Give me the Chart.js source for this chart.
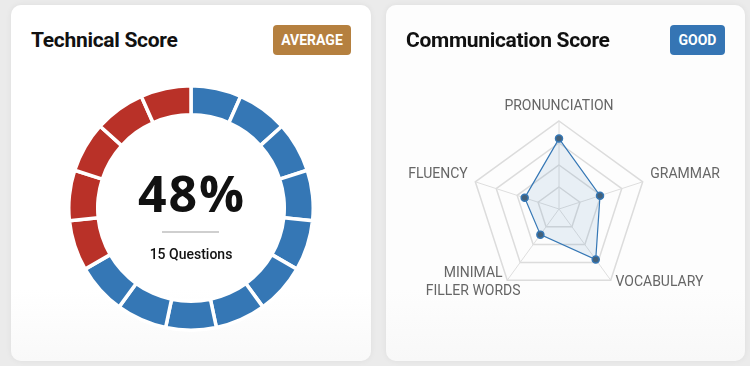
<!DOCTYPE html>
<html>
<head>
<meta charset="utf-8">
<script src="https://cdn.jsdelivr.net/npm/chart.js@4"></script>
<style>
  html, body { margin: 0; padding: 0; }
  body {
    width: 750px; height: 366px; background: #ebebeb;
    font-family: Roboto, "Noto Sans", sans-serif; position: relative; overflow: hidden;
  }
  .card {
    position: absolute; top: 5px; height: 356px; border-radius: 10px;
    background: linear-gradient(#ffffff 80%, #f9f9f9);
    box-shadow: 0 0 6px rgba(0,0,0,0.06);
  }
  #techCard { left: 11px; width: 360px; }
  #commCard { left: 386px; width: 359px; background: linear-gradient(#fdfdfd 80%, #f8f8f8); }
  .title {
    position: absolute; top: 23px; left: 20px; font-size: 21px; line-height: 24px;
    font-weight: 700; color: #111; letter-spacing: -0.3px; white-space: nowrap;
  }
  .badge {
    position: absolute; top: 20px; height: 30px; line-height: 30px; border-radius: 4px;
    color: #fff; font-size: 14px; font-weight: 700; text-align: center;
  }
  #techBadge { left: 262px; width: 78px; background: #b5803f; }
  #commBadge { left: 284px; width: 55px; background: #3575b4; }
  #donutWrap { position: absolute; left: 56px; top: 79px; width: 248px; height: 248px; }
  #radarChart { position: absolute; left: 0; top: 0; }
  .center {
    position: absolute; left: 0; width: 248px; text-align: center; color: #111;
  }
  #pct {
    top: 84px; font-family: "Open Sans", Roboto, sans-serif; font-size: 50px; font-weight: 700;
    line-height: 50px; letter-spacing: 2px; text-indent: 2px;
  }
  #rule { position: absolute; left: 95px; top: 147px; width: 57px; height: 2px; background: #cfcfcf; }
  #qcount { top: 162px; font-size: 14px; font-weight: 500; }
</style>
</head>
<body>
<div class="card" id="techCard">
  <div class="title">Technical Score</div>
  <div class="badge" id="techBadge">AVERAGE</div>
  <div id="donutWrap">
    <canvas id="donutChart" width="248" height="248"></canvas>
    <div class="center" id="pct">48%</div>
    <div id="rule"></div>
    <div class="center" id="qcount">15 Questions</div>
  </div>
</div>
<div class="card" id="commCard">
  <canvas id="radarChart" width="359" height="356"></canvas>
  <div class="title">Communication Score</div>
  <div class="badge" id="commBadge">GOOD</div>
</div>
<script>
// Technical: one segment per question, 1 = correct, 0 = wrong
const questionLabels = ['Q1', 'Q2', 'Q3', 'Q4', 'Q5', 'Q6', 'Q7', 'Q8', 'Q9', 'Q10', 'Q11', 'Q12', 'Q13', 'Q14', 'Q15'];
const questionWeights = [1, 1, 1, 1, 1, 1, 1, 1, 1, 1, 1, 1, 1, 1, 1];
const questionCorrect = [1, 1, 1, 1, 1, 1, 1, 1, 1, 1, 0, 0, 0, 0, 0];

// Communication radar
const skillLabels = ['PRONUNCIATION', 'GRAMMAR', 'VOCABULARY', ['MINIMAL', 'FILLER WORDS'], 'FLUENCY'];
const skillScores = [80, 49, 71, 36, 41];
const radarTicks = [0, 25, 50, 75, 100];

const BLUE = '#3577b5';
const RED = '#b93128';

new Chart(document.getElementById('donutChart'), {
  type: 'doughnut',
  data: {
    labels: questionLabels,
    datasets: [{
      data: questionWeights,
      backgroundColor: questionCorrect.map(c => c ? BLUE : RED),
      borderColor: '#ffffff',
      borderWidth: 3.5
    }]
  },
  options: {
    responsive: false,
    animation: false,
    cutout: '76.3%',
    plugins: { legend: { display: false }, tooltip: { enabled: false } }
  }
});

// point labels drawn by hand so they sit level with the vertices
const radarLabels = {
  id: 'radarLabels',
  afterDraw(chart) {
    const scale = chart.scales.r;
    const ctx = chart.ctx;
    const lineH = 17.7;
    ctx.save();
    ctx.font = '14px Roboto';
    ctx.fillStyle = '#666666';
    ctx.textBaseline = 'middle';
    chart.data.labels.forEach((label, i) => {
      const lines = [].concat(label);
      const pos = scale.getPointPosition(i, scale.drawingArea + 8);
      let x = pos.x;
      let y = pos.y - 4.5;
      let align = pos.x > scale.xCenter ? 'left' : 'right';
      if (Math.abs(pos.x - scale.xCenter) < 1) {
        align = 'center';
        y = scale.getPointPosition(i, scale.drawingArea + 14.7).y;
      }
      if (lines.length > 1) {
        const w = ctx.measureText(lines[0]).width;
        x = align === 'right' ? pos.x - w / 2 : pos.x + w / 2;
        align = 'center';
      }
      const top = y - (lines.length - 1) * lineH / 2;
      ctx.textAlign = align;
      lines.forEach((ln, k) => ctx.fillText(ln, x, top + k * lineH));
    });
    ctx.restore();
  }
};

new Chart(document.getElementById('radarChart'), {
  type: 'radar',
  data: {
    labels: skillLabels,
    datasets: [{
      data: skillScores,
      borderColor: BLUE,
      borderWidth: 1.2,
      backgroundColor: 'rgba(53, 119, 181, 0.1)',
      pointBackgroundColor: '#44617a',
      pointBorderColor: BLUE,
      pointBorderWidth: 1.5,
      pointRadius: 3.5
    }]
  },
  options: {
    responsive: false,
    animation: false,
    layout: { padding: { left: 85, right: 98, top: 116, bottom: 64 } },
    plugins: { legend: { display: false }, tooltip: { enabled: false } },
    scales: {
      r: {
        min: radarTicks[0],
        max: radarTicks[radarTicks.length - 1],
        ticks: { display: false, stepSize: radarTicks[1] - radarTicks[0] },
        grid: { color: '#dcdcdc', lineWidth: 1.5 },
        angleLines: { color: '#dedede', lineWidth: 1 },
        pointLabels: { display: false }
      }
    }
  },
  plugins: [radarLabels]
});
</script>
</body>
</html>
